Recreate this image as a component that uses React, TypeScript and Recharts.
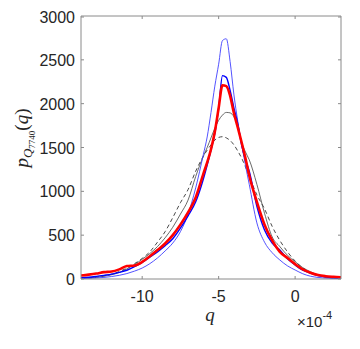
import React from 'react';
import { LineChart, Line, XAxis, YAxis } from 'recharts';

// q in units of 1e-4
const Q = [-14, -13.5, -13, -12.5, -12, -11.5, -11, -10.5, -10, -9.5, -9, -8.5, -8, -7.5, -7, -6.5, -6,
  -5.75, -5.5, -5.25, -5, -4.75, -4.5, -4.25, -4, -3.75, -3.5, -3.25,
  -3, -2.5, -2, -1.5, -1, -0.5, 0, 0.5, 1, 1.5, 2, 2.5, 3];

const thinBlue = [5, 8, 12, 18, 28, 42, 62, 90, 125, 175, 240, 320, 410, 540, 740, 1040, 1420,
  1620, 1900, 2200, 2450, 2720, 2740, 2480, 2100, 1800, 1540, 1300,
  1080, 640, 420, 300, 217, 150, 103, 60, 32, 18, 10, 6, 4];

const blue = [15, 20, 30, 42, 55, 75, 100, 140, 190, 250, 310, 380, 460, 580, 720, 880, 1140,
  1300, 1470, 1660, 1950, 2320, 2300, 2150, 1950, 1770, 1530, 1360,
  1230, 830, 560, 410, 330, 230, 160, 100, 68, 40, 25, 15, 10];

const red = [40, 50, 62, 78, 85, 110, 148, 155, 195, 260, 330, 405, 500, 620, 760, 930, 1200,
  1330, 1480, 1680, 1950, 2210, 2200, 2090, 1890, 1730, 1560, 1380,
  1180, 880, 620, 440, 310, 240, 170, 110, 72, 45, 32, 25, 20];

const gray = [10, 14, 20, 32, 48, 75, 115, 165, 225, 290, 370, 470, 590, 740, 900, 1170, 1400,
  1500, 1610, 1720, 1810, 1870, 1900, 1895, 1850, 1750, 1560, 1450,
  1360, 1080, 750, 480, 370, 270, 198, 130, 83, 45, 22, 12, 8];

const dashed = [8, 12, 20, 35, 55, 85, 125, 175, 235, 310, 420, 540, 700, 870, 1020, 1230, 1400,
  1470, 1530, 1585, 1615, 1623, 1610, 1580, 1530, 1460, 1380, 1280,
  1170, 960, 800, 600, 440, 310, 205, 125, 75, 40, 22, 12, 7];

const xTicks = [-10, -5, 0];
const yTicks = [0, 500, 1000, 1500, 2000, 2500, 3000];

const data = Q.map((q, i) => ({
  q,
  thin: thinBlue[i],
  blue: blue[i],
  red: red[i],
  gray: gray[i],
  dash: dashed[i],
}));

const FONT = '"Liberation Sans", Arial, Helvetica, sans-serif';
const SERIF = '"Liberation Serif", "Times New Roman", serif';
const TXT = '#262626';
const BOX = '#8a8a8a';

const BottomTick = (props: any) => {
  const { x, y, payload } = props;
  return (
    <g>
      <line x1={x} x2={x} y1={y} y2={y - 3} stroke={BOX} />
      <text x={x} y={y + 23} textAnchor="middle" fontSize={16} fill={TXT} fontFamily={FONT}>
        {payload.value}
      </text>
    </g>
  );
};

const LeftTick = (props: any) => {
  const { x, y, payload } = props;
  return (
    <g>
      <line x1={x} x2={x + 3} y1={y} y2={y} stroke={BOX} />
      <text x={x - 6} y={y + 6} textAnchor="end" fontSize={16} fill={TXT} fontFamily={FONT}>
        {payload.value}
      </text>
    </g>
  );
};

const RightTick = (props: any) => {
  const { x, y } = props;
  return <line x1={x} x2={x - 3} y1={y} y2={y} stroke={BOX} />;
};

const TopTick = (props: any) => {
  const { x, y } = props;
  return <line x1={x} x2={x} y1={y} y2={y + 3} stroke={BOX} />;
};

export default function App() {
  return (
    <div style={{ position: 'relative', width: 352, height: 341, background: '#fff' }}>
      <LineChart
        width={352}
        height={341}
        data={data}
        margin={{ top: 6, right: 9, bottom: 40, left: 13 }}
      >
        <XAxis
          dataKey="q"
          type="number"
          domain={[-14, 3]}
          ticks={xTicks}
          allowDataOverflow
          tickSize={0}
          tickMargin={0}
          tickLine={false}
          axisLine={{ stroke: BOX }}
          tick={<BottomTick />}
          height={30}
        />
        <XAxis
          xAxisId="top"
          orientation="top"
          dataKey="q"
          type="number"
          domain={[-14, 3]}
          ticks={xTicks}
          allowDataOverflow
          tickSize={0}
          tickMargin={0}
          tickLine={false}
          axisLine={{ stroke: BOX }}
          tick={<TopTick />}
          height={2}
        />
        <YAxis
          type="number"
          domain={[0, 3000]}
          ticks={yTicks}
          allowDataOverflow
          tickSize={0}
          tickMargin={0}
          tickLine={false}
          axisLine={{ stroke: BOX }}
          tick={<LeftTick />}
          width={60}
        />
        <YAxis
          yAxisId="right"
          orientation="right"
          type="number"
          domain={[0, 3000]}
          ticks={yTicks}
          allowDataOverflow
          tickSize={0}
          tickMargin={0}
          tickLine={false}
          axisLine={{ stroke: BOX }}
          tick={<RightTick />}
          width={10}
        />
        <Line type="monotone" dataKey="dash" stroke="#333" strokeWidth={0.9} strokeDasharray="4 3" dot={false} isAnimationActive={false} />
        <Line type="monotone" dataKey="gray" stroke="#444" strokeWidth={0.8} dot={false} isAnimationActive={false} />
        <Line type="monotone" dataKey="thin" stroke="#4040ff" strokeWidth={0.9} dot={false} isAnimationActive={false} />
        <Line type="monotone" dataKey="blue" stroke="#0000ff" strokeWidth={1.4} dot={false} isAnimationActive={false} />
        <Line type="monotone" dataKey="red" stroke="#ff0000" strokeWidth={2.6} dot={false} isAnimationActive={false} />
      </LineChart>
      <svg
        width={352}
        height={341}
        style={{ position: 'absolute', left: 0, top: 0, pointerEvents: 'none' }}
      >
        <text x={202} y={313} textAnchor="middle" fontSize={19} fontStyle="italic" fill={TXT} fontFamily={SERIF}>
          q
        </text>
        <text x={289} y={319} fontSize={15} fill={TXT} fontFamily={FONT}>
          ×10
          <tspan fontSize={11} dy={-8}>-4</tspan>
        </text>
        <text
          transform="translate(20,130) rotate(-90)"
          textAnchor="middle"
          fill={TXT}
          fontFamily={SERIF}
          fontSize={19}
        >
          <tspan fontStyle="italic">p</tspan>
          <tspan fontStyle="italic" fontSize={13} dy={4}>Q</tspan>
          <tspan fontSize={9} dy={3}>7740</tspan>
          <tspan dy={-7}>(</tspan>
          <tspan fontStyle="italic">q</tspan>
          <tspan>)</tspan>
        </text>
      </svg>
    </div>
  );
}
